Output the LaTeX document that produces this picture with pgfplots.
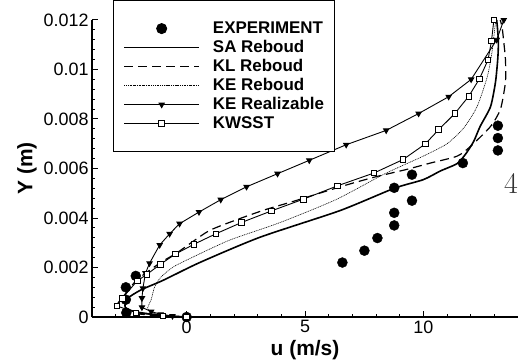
\documentclass[border=0pt]{standalone}
\usepackage{pgfplots}
\pgfplotsset{compat=1.18}
\usepackage{fontspec}
\newfontfamily\arial{Liberation Sans}
\pgfplotsset{leg/.style={legend image code/.code={\draw[mark repeat=2,mark phase=2,##1] plot coordinates {(0bp,0bp) (37.5bp,0bp) (75bp,0bp)};}}}
\begin{document}
\begin{tikzpicture}
\begin{axis}[
 scale only axis, width=426bp, height=297bp,
 xmin=-4, xmax=14, ymin=0, ymax=0.012,
 axis x line=bottom, axis y line=left,
 axis line style={-, line width=1.2bp},
 tick align=inside, major tick length=6bp, minor tick length=3.5bp,
 every tick/.style={black, line width=1bp},
 xtick={0,5,10}, minor xtick={-4,-3,-2,-1,0,1,2,3,4,5,6,7,8,9,10,11,12,13,14},
 ytick={0,0.002,0.004,0.006,0.008,0.01,0.012},
 yticklabels={0,0.002,0.004,0.006,0.008,0.01,0.012},
 minor ytick={0.0004,0.0008,0.0012,0.0016,0.0024,0.0028,0.0032,0.0036,0.0044,0.0048,0.0052,0.0056,0.0064,0.0068,0.0072,0.0076,0.0084,0.0088,0.0092,0.0096,0.0104,0.0108,0.0112,0.0116},
 scaled y ticks=false,
 /pgf/number format/assume math mode=true,
 tick label style={font=\arial\fontsize{18}{18}\selectfont},
 xlabel={u (m/s)}, ylabel={Y (m)},
 label style={font=\arial\bfseries\fontsize{21}{21}\selectfont},
 clip=false,
 legend style={at={(0.049,1.067)}, anchor=north west, draw=black, line width=1bp, fill=white,
   font=\arial\bfseries\fontsize{17}{17}\selectfont, inner xsep=10bp, inner ysep=21bp, row sep=5bp,
   nodes={inner sep=0pt, text height=12bp, text depth=2bp},
   /tikz/column 1/.style={column sep=13bp}},
 legend cell align=left,
]
\addplot[only marks, mark=*, mark size=5bp, black, leg] coordinates {
(0,0) (-2.55,0.00017) (-2.57,0.0007) (-2.57,0.0012) (-2.15,0.00166)
(6.58,0.0022) (7.51,0.00268) (8.06,0.00319) (8.77,0.0037) (8.77,0.00421)
(9.52,0.0047) (8.77,0.00522) (9.52,0.00575) (11.67,0.00622)
(13.15,0.00673) (13.15,0.00723) (13.15,0.00773)};
\addlegendentry{EXPERIMENT}
\addplot[black, line width=1.6bp, smooth, tension=0.4, leg] coordinates {
(0,0) (-1.2,0.00008) (-2.2,0.00022) (-2.6,0.0004) (-2.5,0.00075) (-1.92,0.0011)
(-1.0,0.00148) (0.55,0.0022) (3.09,0.00322) (6.48,0.0043) (8.77,0.0052)
(10.0,0.00555) (10.72,0.0059) (11.43,0.0062) (11.8,0.0066) (12.13,0.0071)
(12.4,0.0077) (12.84,0.0085) (13.05,0.0095) (13.15,0.0105) (13.17,0.0112) (13.1,0.012)};
\addlegendentry{SA Reboud}
\addplot[black, line width=1.2bp, dash pattern=on 9bp off 5bp, smooth, tension=0.4, leg] coordinates {
(0,0) (-1.5,0.00007) (-2.5,0.0002) (-2.95,0.00045) (-2.7,0.0008) (-2.1,0.0015)
(-1.1,0.0022) (-0.4,0.0026) (0.9,0.00346) (2.03,0.0039) (3.3,0.00433) (4.5,0.00467)
(6.63,0.0053) (7.97,0.00566) (9.24,0.00595) (10.3,0.00622) (11.43,0.0065)
(12.0,0.0069) (12.84,0.0077) (13.26,0.0084) (13.47,0.0095) (13.47,0.0104)
(13.4,0.0111) (13.33,0.0117) (13.25,0.012)};
\addlegendentry{KL Reboud}
\addplot[black, line width=0.6bp, dash pattern=on 1bp off 0.8bp, smooth, tension=0.4, leg] coordinates {
(0,0) (-0.8,0.00005) (-1.4,0.00015) (-1.65,0.00035) (-1.5,0.0007) (-1.36,0.0012)
(-1.1,0.0016) (-0.6,0.002) (0,0.0023) (1.8,0.0031) (3.9,0.0038) (6.3,0.00474)
(8.4,0.0058) (10.0,0.0065) (11.0,0.0070) (11.71,0.00764) (12.27,0.0085)
(12.7,0.0097) (12.9,0.0107) (13.05,0.0119) (13.1,0.012)};
\addlegendentry{KE Reboud}
\addplot[black, line width=0.9bp, mark=triangle*, mark size=3bp, mark options={rotate=180, solid}, leg] coordinates {
(0,0) (-0.6,0.00004) (-1.1,0.00011) (-1.5,0.00022) (-1.89,0.00039) (-1.89,0.00076)
(-1.85,0.00116) (-1.74,0.00177) (-1.57,0.00217) (-1.14,0.00291) (-0.72,0.00336)
(-0.3,0.00377) (0.52,0.00424) (1.44,0.00474) (2.53,0.00526) (3.84,0.00579)
(5.18,0.00633) (6.74,0.00696) (8.43,0.00754) (9.8,0.00822) (11.07,0.0089)
(12.02,0.0096) (13.1,0.0112) (13.4,0.012)};
\addlegendentry{KE Realizable}
\addplot[black, line width=0.9bp, mark=square*, mark size=2.8bp, mark options={fill=white, solid}, leg] coordinates {
(0,0) (-1.0,0.00004) (-2.14,0.00017) (-2.95,0.00045) (-2.72,0.00076) (-2.09,0.00146)
(-1.67,0.00173) (-1.11,0.00213) (-0.48,0.00254) (0.31,0.00294) (1.23,0.00336)
(2.32,0.00382) (3.59,0.00429) (4.93,0.00476) (6.37,0.0053) (7.92,0.00582)
(9.14,0.00636) (10.08,0.00699) (10.65,0.00757) (11.33,0.00822) (11.92,0.00892)
(12.37,0.00962) (12.73,0.01038) (12.88,0.01115) (12.98,0.012)};
\addlegendentry{KWSST}
\coordinate (ll) at (rel axis cs:0,0);
\coordinate (ur) at (rel axis cs:1,1);
\coordinate (p48) at (axis cs:13.4,0.00499);
\end{axis}
\node[anchor=base west, inner sep=0pt, text=black!80, font=\fontsize{30}{30}\selectfont] at (p48) {48};
\pgfresetboundingbox
\path[use as bounding box] ([xshift=-92bp,yshift=-43bp]ll) rectangle ([yshift=20bp]ur);
\end{tikzpicture}
\end{document}
